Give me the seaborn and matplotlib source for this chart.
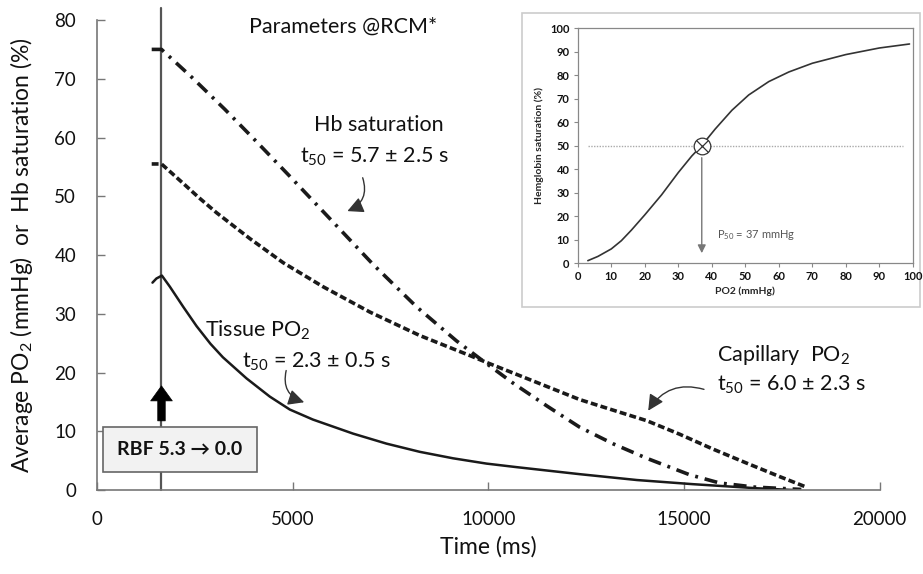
import numpy as np
import pandas as pd
import matplotlib
matplotlib.use("Agg")
import matplotlib.pyplot as plt
import seaborn as sns
from matplotlib.patches import Rectangle

# ---------------- data ----------------
time_hb = [1400, 1650, 2418, 3269, 4078, 4929, 5866, 7057, 8165, 9186, 9800, 10633, 11500, 12335, 13180, 14050, 15145, 15910, 16800, 18000]
hb_sat = [75, 75, 70.3, 64.8, 59.3, 53.4, 46.8, 38.4, 31.2, 25.4, 22.3, 18.2, 14.3, 10.7, 7.9, 5.4, 2.6, 1.2, 0.5, 0.1]

time_cap = [1400, 1650, 2204, 2600, 3057, 3908, 4758, 5780, 6973, 8250, 9526, 10000, 10718, 12335, 13188, 14050, 14890, 15730, 16594, 17440, 18126]
cap_po2 = [55.5, 55.5, 52.2, 49.8, 47.2, 42.8, 38.7, 34.6, 30.3, 26.3, 22.9, 21.6, 19.7, 15.4, 13.6, 11.8, 9.5, 7.0, 4.6, 2.3, 0.5]

time_tis = [1420, 1520, 1660, 1865, 2204, 2546, 2900, 3218, 3823, 4418, 4929, 5517, 6546, 7398, 8250, 9100, 9953, 10718, 12335, 13800, 15220, 16860, 17800]
tis_po2 = [35.3, 36.0, 36.5, 34.6, 31.2, 27.9, 24.9, 22.6, 19.0, 15.9, 13.7, 12.0, 9.6, 7.9, 6.5, 5.4, 4.5, 3.9, 2.7, 1.7, 1.0, 0.3, 0.0]

rbf_time = 1650

# inset: oxygen dissociation curve
inset_po2 = [3, 6, 10, 13, 16, 20, 25, 30, 34, 37, 41, 46, 51, 57, 63, 70, 80, 90, 99]
inset_sat = [1, 2.8, 6, 9.5, 14, 20.5, 29, 38.5, 45.5, 50, 57, 65, 71.5, 77.2, 81.3, 85, 88.7, 91.5, 93.2]
p50 = 37

x_ticks = [0, 5000, 10000, 15000, 20000]
y_ticks = [0, 10, 20, 30, 40, 50, 60, 70, 80]
inset_ticks = list(range(0, 101, 10))

# ---------------- style ----------------
sns.set_theme(style="ticks")
plt.rcParams['font.family'] = ['Lato', 'DejaVu Sans']
plt.rcParams['mathtext.fontset'] = 'custom'
plt.rcParams['mathtext.rm'] = 'Lato'
plt.rcParams['mathtext.it'] = 'Lato:italic'
plt.rcParams['mathtext.bf'] = 'Lato:bold'

fig = plt.figure(figsize=(9.23, 5.74), dpi=100)
ax = fig.add_axes([0.105, 0.1463, 0.848, 0.8188])

dk = '#1a1a1a'
sns.lineplot(x=time_hb, y=hb_sat, ax=ax, color=dk, linewidth=2.6, sort=False)
ax.lines[-1].set_dashes([3.6, 1.9, 0.8, 1.9])
sns.lineplot(x=time_cap, y=cap_po2, ax=ax, color=dk, linewidth=2.6, sort=False)
ax.lines[-1].set_dashes([1.9, 0.9])
sns.lineplot(x=time_tis, y=tis_po2, ax=ax, color=dk, linewidth=1.8, sort=False)

ax.set_xlim(0, 20000)
ax.set_ylim(0, 80)
ax.set_xticks(x_ticks)
ax.set_yticks(y_ticks)
ax.tick_params(direction='in', length=6, width=1, color='#777777', labelsize=13.5, labelcolor='#111111')
ax.tick_params(axis='x', pad=15)
ax.tick_params(axis='y', pad=15)
for s in ['top', 'right']:
    ax.spines[s].set_visible(False)
for s in ['left', 'bottom']:
    ax.spines[s].set_color('#777777')
    ax.spines[s].set_linewidth(1.2)
ax.set_xlabel('Time (ms)', fontsize=16.5, color='#111111', labelpad=6)
ax.set_ylabel('Average PO$_\\mathregular{2}$ (mmHg)  or  Hb saturation (%)', fontsize=16.5,
              color='#111111', labelpad=14)

# vertical RBF line
ax.plot([rbf_time, rbf_time], [0, 82], color='#555555', lw=1.6, clip_on=False, zorder=1)
# thick up arrow
ax.annotate('', xy=(rbf_time, 18.2), xytext=(rbf_time, 11.3),
            arrowprops=dict(arrowstyle='simple,head_width=1.3,head_length=0.9,tail_width=0.45',
                            fc='black', ec='black', lw=0.5), zorder=4)
# RBF box
ax.add_patch(Rectangle((146, 3.1), 3933, 7.6, fc='#f2f2f2', ec='#666666', lw=1.2, zorder=5))
ax.text(2112, 6.9, 'RBF 5.3 \u2192 0.0', ha='center', va='center', fontsize=14,
        fontweight='bold', color='#111111', zorder=6)

# texts
tfs = 15.5
ax.text(6283, 78.8, 'Parameters @RCM*', ha='center', va='center', fontsize=15.5, color='#111111')
ax.text(7202, 62.1, 'Hb saturation', ha='center', va='center', fontsize=tfs, color='#111111')
ax.text(7100, 56.7, 't$_\\mathregular{50}$ = 5.7 \u00b1 2.5 s', ha='center', va='center', fontsize=tfs, color='#111111')
ax.text(2758, 27.2, 'Tissue PO$_\\mathregular{2}$', ha='left', va='center', fontsize=tfs, color='#111111')
ax.text(3703, 21.8, 't$_\\mathregular{50}$ = 2.3 \u00b1 0.5 s', ha='left', va='center', fontsize=tfs, color='#111111')
ax.text(15835, 23.0, 'Capillary  PO$_\\mathregular{2}$', ha='left', va='center', fontsize=tfs, color='#111111')
ax.text(15835, 17.9, 't$_\\mathregular{50}$ = 6.0 \u00b1 2.3 s', ha='left', va='center', fontsize=tfs, color='#111111')

arr = dict(arrowstyle='-|>,head_width=0.4,head_length=0.8', color='#333333', lw=1.0)
ax.annotate('', xy=(6334, 47.3), xytext=(6768, 53.6),
            arrowprops=dict(**arr, connectionstyle='arc3,rad=-0.5'))
ax.annotate('', xy=(5364, 14.8), xytext=(4853, 20.8),
            arrowprops=dict(**arr, connectionstyle='arc3,rad=0.5'))
ax.annotate('', xy=(14050, 13.1), xytext=(15580, 17.0),
            arrowprops=dict(**arr, connectionstyle='arc3,rad=0.4'))

# ---------------- inset ----------------
fig.patches.append(Rectangle((0.5655, 0.4652), 0.4312, 0.5122, transform=fig.transFigure,
                             fc='white', ec='#cccccc', lw=1.2, zorder=1))
axi = fig.add_axes([0.626, 0.5418, 0.363, 0.4094], zorder=2)
axi.set_facecolor('white')
sns.lineplot(x=inset_po2, y=inset_sat, ax=axi, color='#333333', linewidth=1.2, sort=False)
axi.plot([3, 97], [50, 50], color='#aaaaaa', lw=1.0, ls=(0, (1, 1)))
axi.plot([p50], [50], marker='o', ms=12, mfc='white', mec='#333333', mew=0.9)
axi.plot([p50], [50], marker='x', ms=8, mec='#333333', mew=0.9)
axi.annotate('', xy=(p50, 3), xytext=(p50, 46),
             arrowprops=dict(arrowstyle='-|>,head_width=0.2,head_length=0.4', color='#777777', lw=1.0))
axi.text(41.5, 11.8, 'P$_\\mathregular{50}$ = 37 mmHg', ha='left', va='center', fontsize=8, color='#555555')
axi.set_xlim(0, 100)
axi.set_ylim(0, 100)
axi.set_xticks(inset_ticks)
axi.set_yticks(inset_ticks)
axi.tick_params(direction='out', length=3, width=0.8, color='#888888', labelsize=8, labelcolor='#111111', pad=3)
for lab in axi.get_xticklabels() + axi.get_yticklabels():
    lab.set_fontweight('bold')
for s in axi.spines.values():
    s.set_color('#888888')
    s.set_linewidth(0.9)
axi.set_xlabel('PO2 (mmHg)', fontsize=7.5, fontweight='bold', labelpad=3)
axi.set_ylabel('Hemglobin saturation (%)', fontsize=7.5, fontweight='bold', labelpad=4)

fig.savefig('out.png', dpi=100)
